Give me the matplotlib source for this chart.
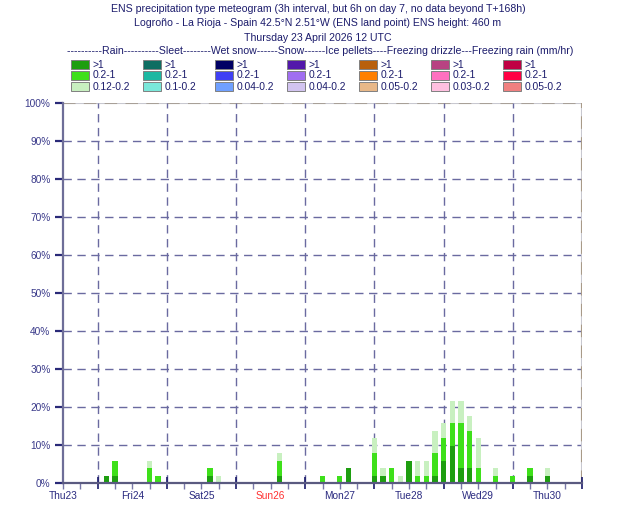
import numpy as np
import matplotlib
matplotlib.use("Agg")
import matplotlib.pyplot as plt
from matplotlib.patches import Rectangle

plt.rcParams['font.family'] = ['Liberation Sans', 'DejaVu Sans']

# hours after Thu23 12 UTC, members (out of 51) per rain class
hours = [15, 18, 30, 33, 51, 54, 75, 90, 96, 99, 108, 111, 114, 117, 120, 123,
         126, 129, 132, 135, 138, 141, 144, 150, 156, 162, 168]
rain_gt1 = [1, 1, 0, 0, 1, 0, 1, 0, 0, 2, 1, 1, 0, 0, 3, 0,
            0, 1, 3, 5, 2, 2, 0, 0, 0, 1, 1]
rain_mid = [0, 2, 2, 1, 1, 0, 2, 1, 1, 0, 3, 0, 2, 0, 0, 1,
            1, 3, 3, 3, 6, 5, 2, 1, 1, 1, 0]
rain_low = [0, 0, 1, 0, 0, 1, 1, 0, 0, 0, 2, 1, 0, 1, 0, 2,
            2, 3, 2, 3, 3, 2, 4, 1, 0, 0, 1]
members = 51

day_labels = ['Thu23', 'Fri24', 'Sat25', 'Sun26', 'Mon27', 'Tue28', 'Wed29', 'Thu30']
day_hours = [0, 24, 48, 72, 96, 120, 144, 168]
y_ticks = [0, 10, 20, 30, 40, 50, 60, 70, 80, 90, 100]

legend_groups = ['Rain', 'Sleet', 'Wet snow', 'Snow', 'Ice pellets', 'Freezing drizzle', 'Freezing rain (mm/hr)']
legend_dashes = [10, 10, 8, 6, 6, 4, 3]
legend_ranges = [['>1', '0.2-1', '0.12-0.2'],
                 ['>1', '0.2-1', '0.1-0.2'],
                 ['>1', '0.2-1', '0.04-0.2'],
                 ['>1', '0.2-1', '0.04-0.2'],
                 ['>1', '0.2-1', '0.05-0.2'],
                 ['>1', '0.2-1', '0.03-0.2'],
                 ['>1', '0.2-1', '0.05-0.2']]
legend_colors = [['#1e9e10', '#3ee01a', '#c8f0c0'],
                 ['#0e6e62', '#1cb8a2', '#7ae8da'],
                 ['#000064', '#4040f4', '#70a0ff'],
                 ['#5218aa', '#a06ef0', '#d2c4f0'],
                 ['#b8600c', '#ff8000', '#e8b888'],
                 ['#b84282', '#ff70c0', '#ffc0e0'],
                 ['#c00044', '#ff0044', '#f08080']]

navy = '#1c1c6c'
W, H = 630, 525

fig = plt.figure(figsize=(W / 100, H / 100), dpi=100)
ax = fig.add_axes([63 / W, 1 - 483 / H, (582 - 63) / W, (483 - 103) / H])

# stacked bars
h = np.array(hours)
g = np.array(rain_gt1) * 100 / members
m = np.array(rain_mid) * 100 / members
l = np.array(rain_low) * 100 / members
bw = 1.85
ax.bar(h, g, width=bw, color=legend_colors[0][0], linewidth=0, zorder=3)
ax.bar(h, m, width=bw, bottom=g, color=legend_colors[0][1], linewidth=0, zorder=3)
ax.bar(h, l, width=bw, bottom=g + m, color=legend_colors[0][2], linewidth=0, zorder=3)

ax.set_xlim(0, 180)
ax.set_ylim(0, 100)

# grid
for y in y_ticks[1:-1]:
    ax.axhline(y, color='#6a6aa0', lw=1, dashes=(6, 4), zorder=1)
ax.axhline(100, color='#c8c8d0', lw=1.5, zorder=1)
ax.axhline(100, color='#a8a098', lw=1.5, dashes=(6, 4), zorder=1)
for x in range(12, 180, 24):
    ax.axvline(x, color='#6a6aa0', lw=1, dashes=(6, 4), zorder=1)
ax.axvline(180, color='#c8c8d0', lw=1.5, zorder=1)
ax.axvline(180, color='#a89a88', lw=1.5, dashes=(6, 4), zorder=1)

for s in ['top', 'right']:
    ax.spines[s].set_visible(False)
ax.spines['left'].set_color('#6e6e98')
ax.spines['left'].set_linewidth(1.6)
ax.spines['bottom'].set_color('#5a5a80')
ax.spines['bottom'].set_linewidth(1.6)
ax.spines['left'].set_zorder(4)
ax.spines['bottom'].set_zorder(4)

ax.set_yticks(y_ticks)
ax.set_yticklabels([f'{v}%' for v in y_ticks], fontsize=7.3, color='#3a3a8a')
ax.tick_params(axis='y', length=6, width=1.6, color='#2a2a78', pad=3)

ax.set_xticks(list(range(12, 181, 24)))
ax.set_xticklabels([])
ax.tick_params(axis='x', which='major', direction='inout', length=9, width=1.2, color='#1a1a6a')
ax.set_xticks([x for x in range(0, 181, 6) if x % 24 != 12], minor=True)
ax.tick_params(axis='x', which='minor', direction='out', length=4, width=1, color='#7878a8')

for lab, hh in zip(day_labels, day_hours):
    c = '#ff3030' if lab.startswith('Sun') else '#2a2a80'
    ax.text(hh, -3.4, lab, ha='center', va='center', fontsize=7.3, color=c,
            transform=ax.transData, clip_on=False)

# titles
titles = ['ENS precipitation type meteogram (3h interval, but 6h on day 7, no data beyond T+168h)',
          'Logroño - La Rioja - Spain 42.5°N 2.51°W (ENS land point) ENS height: 460 m',
          'Thursday 23 April 2026 12 UTC']
for i, t in enumerate(titles):
    fig.text(318 / W, 1 - (9 + 14.5 * i) / H, t, ha='center', va='center', fontsize=7.55, color=navy)

header = ''.join('-' * n + name for n, name in zip(legend_dashes, legend_groups))
fig.text(67 / W, 1 - 51.5 / H, header, ha='left', va='center', fontsize=7.55, color=navy)

row_y = [64.5, 75.5, 86.5]
for ci in range(len(legend_groups)):
    x0 = 71 + 72 * ci
    for ri in range(3):
        yc = row_y[ri]
        fig.patches.append(Rectangle((x0 / W, 1 - (yc + 4.5) / H), 18 / W, 9 / H,
                                     transform=fig.transFigure, facecolor=legend_colors[ci][ri],
                                     edgecolor='#808080', linewidth=0.7))
        fig.text((x0 + 21.5) / W, 1 - yc / H, legend_ranges[ci][ri], ha='left', va='center',
                 fontsize=7.4, color=navy)

fig.savefig('out.png', dpi=100)
